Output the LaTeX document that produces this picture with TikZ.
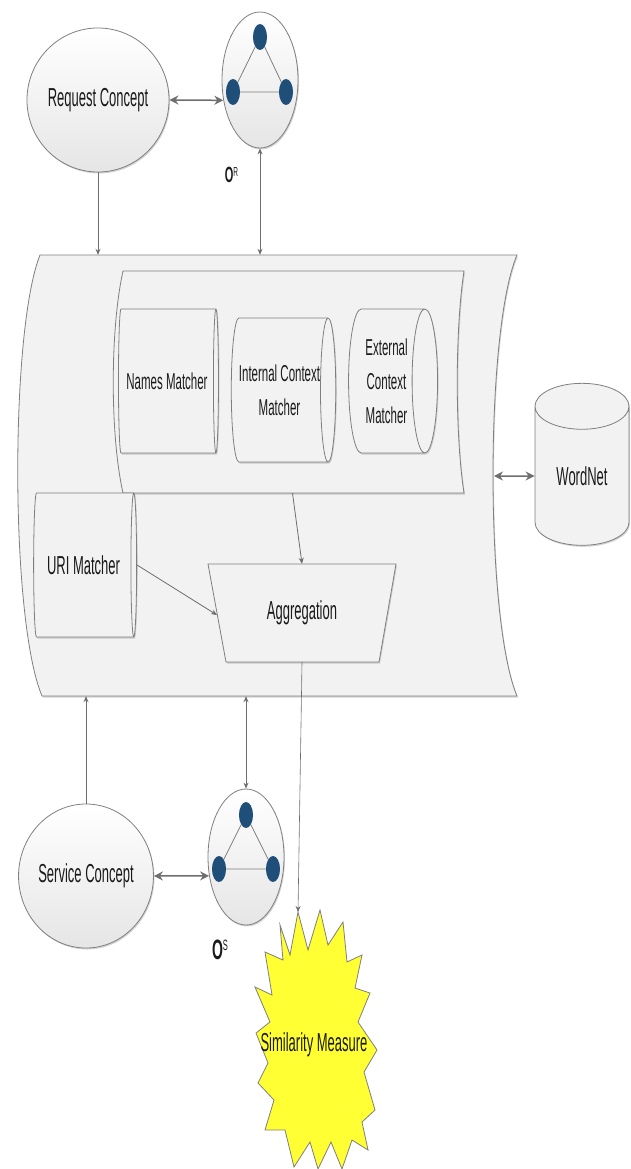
\documentclass[tikz,border=0pt]{standalone}
\usepackage{fontspec}
\setmainfont[FakeStretch=0.5]{Liberation Sans}
\usetikzlibrary{shapes.geometric,arrows.meta,shadows}
\definecolor{edge}{HTML}{7F7F7F}
\definecolor{arrowc}{HTML}{6E6E6E}
\definecolor{dotblue}{HTML}{1F4E79}
\definecolor{boxfill}{HTML}{F2F2F2}
\definecolor{starfill}{HTML}{FFFF33}
\definecolor{txt}{HTML}{1A1A1A}
\begin{document}
\begin{tikzpicture}[x=1pt,y=-1pt,
  shd/.style={drop shadow={opacity=0.35,shadow xshift=1pt,shadow yshift=-1.5pt}},
  bigfont/.style={font=\fontsize{26}{31}\selectfont},
  circ/.style={ellipse, draw=edge, line width=0.8pt, top color=white, bottom color=black!10,
    inner sep=0pt, shd, text=txt, bigfont},
  cyl/.style={cylinder, draw=edge, line width=0.8pt, fill=boxfill, aspect=0.3, inner sep=0pt,
    shd, text=txt, align=center, font=\fontsize{23}{34}\selectfont},
  blob/.style={ellipse, fill=dotblue, inner sep=0pt, minimum width=14pt, minimum height=26pt},
  gline/.style={draw=edge, line width=0.8pt},
  shapeline/.style={draw=edge, line width=0.8pt, fill=boxfill, shd},
  arr/.style={draw=arrowc, line width=0.8pt, -{Stealth[length=6pt,width=5pt]}},
  darr/.style={draw=arrowc, line width=0.8pt, {Stealth[length=6pt,width=5pt]}-{Stealth[length=6pt,width=5pt]}},
  bigdarr/.style={draw=arrowc, line width=1.5pt, {Stealth[length=9pt,width=9pt]}-{Stealth[length=9pt,width=9pt]}},
  lbl/.style={text=txt, inner sep=0pt},
  ghost/.style={inner sep=0pt}
]
\useasboundingbox (0,0) rectangle (631,1169);

% main container
\path[shapeline] (40,255) -- (517,255) .. controls (485,330) and (485,620) .. (517,696)
  -- (42,696) .. controls (10,620) and (10,330) .. (40,255) -- cycle;
\node[ghost, minimum width=477pt, minimum height=441pt] (main) at (278.5,475.5) {};
\coordinate (mainE) at (494,476);

% inner container
\path[shapeline] (123,271) -- (464,271) .. controls (455,330) and (455,435) .. (464,493)
  -- (123,493) .. controls (110,435) and (110,330) .. (123,271) -- cycle;
\node[ghost, minimum width=343pt, minimum height=222pt] (inner) at (292.5,382) {};

% matchers (cylinder height = length along its axis)
\node[cyl, minimum height=100pt, minimum width=144pt] (nm) at (167,381) {Names Matcher};
\node[cyl, minimum height=97pt, minimum width=144pt] (ic) at (279.5,390) {Internal Context\\Matcher};
\node[cyl, minimum height=89pt, minimum width=144pt] (ec) at (386.5,381) {External\\Context\\Matcher};
\node[cyl, minimum height=103pt, minimum width=144pt, bigfont] (uri) at (83.5,565) {URI Matcher};

% aggregation
\path[shapeline] (208,564) -- (396,564) -- (379,662) -- (226,662) -- cycle;
\node[lbl, bigfont, minimum width=188pt, minimum height=98pt] (agg) at (302,613) {Aggregation};
\coordinate (aggW) at (217,615);

% WordNet
\node[cyl, shape border rotate=90, aspect=0.9, minimum width=94pt, minimum height=162pt, bigfont] (wn) at (582,476) {WordNet};

% request side
\node[circ, minimum width=132pt, minimum height=144pt] (rc) at (98,100) {Request Concept};
\node[circ, minimum width=76pt, minimum height=136pt] (or) at (260,80) {};
\node[blob] (or1) at (260,37) {};
\node[blob] (or2) at (233,92) {};
\node[blob] (or3) at (286,92) {};
\draw[gline] (or1) -- (or2) -- (or3) -- (or1);
\node[lbl, font=\fontsize{22}{22}\selectfont] (orl) at (231.5,175) {\textbf{O}\raisebox{6pt}{\fontsize{13}{13}\selectfont R}};

% service side
\node[circ, minimum width=132pt, minimum height=144pt] (sc) at (86,876) {Service Concept};
\node[circ, minimum width=76pt, minimum height=136pt] (os) at (246,857) {};
\node[blob] (os1) at (246,815) {};
\node[blob] (os2) at (219,869) {};
\node[blob] (os3) at (273,869) {};
\draw[gline] (os1) -- (os2) -- (os3) -- (os1);
\node[lbl, font=\fontsize{28}{28}\selectfont] (osl) at (220,950) {\textbf{O}\raisebox{9pt}{\fontsize{15}{15}\selectfont S}};

% similarity measure starburst
\path[draw=edge, line width=0.8pt, fill=starfill] (298,912) -- (308,950) -- (320,910) -- (328,945)
  -- (343,922) -- (347,962) -- (362,955) -- (355,988) -- (370,993) -- (358,1022)
  -- (377,1050) -- (364,1072) -- (375,1110) -- (362,1122) -- (368,1150) -- (352,1140)
  -- (342,1169) -- (331,1142) -- (318,1169) -- (310,1142) -- (294,1167) -- (285,1130)
  -- (265,1130) -- (274,1100) -- (258,1083) -- (268,1063) -- (256,1033) -- (270,1022)
  -- (255,987) -- (272,995) -- (265,952) -- (283,960) -- (280,925) -- (290,955) -- cycle;
\coordinate (smtop) at (298,912);
\node[lbl, bigfont] (sm) at (314,1045) {Similarity Measure};

% connectors
\draw[bigdarr] (rc.east) -- (or.209);
\draw[bigdarr] (sc.east) -- (os.207);
\draw[arr] (rc.south) -- (rc.south |- main.north);
\draw[darr] (or.south) -- (or.south |- main.north);
\draw[arr] (sc.north) -- (sc.north |- main.south);
\draw[darr] (os.north) -- (os.north |- main.south);
\draw[bigdarr] (mainE) -- (wn.west);
\draw[arr] (inner.south) -- (agg.north);
\draw[arr] (uri.east) -- (aggW);
\draw[arr, line width=0.6pt] (agg.south) -- (smtop);
\end{tikzpicture}
\end{document}
